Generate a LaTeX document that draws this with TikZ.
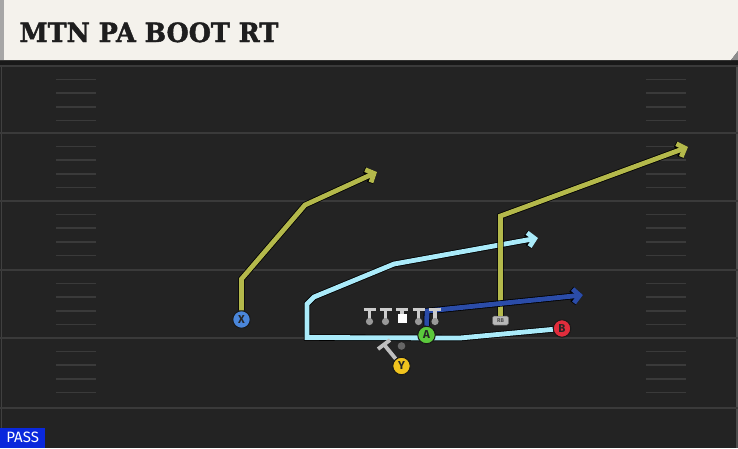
\documentclass[tikz,border=0pt]{standalone}
\usepackage{fontspec}
\setmainfont{Fira Sans}
\newfontfamily\titlefont{DejaVu Serif}[FakeStretch=0.96, BoldFeatures={FakeBold=1.6}]
\usetikzlibrary{arrows.meta}

\definecolor{fieldbg}{HTML}{232323}
\definecolor{titlebg}{HTML}{F4F2EC}
\definecolor{titleink}{HTML}{1E1E1E}
\definecolor{yardgray}{HTML}{3A3A3A}
\definecolor{routeolive}{HTML}{B4B94B}
\definecolor{routesky}{HTML}{AAEBFA}
\definecolor{routenavy}{HTML}{2B4CA8}
\definecolor{xblue}{HTML}{4A86DA}
\definecolor{agreen}{HTML}{5BC83C}
\definecolor{bred}{HTML}{E02D3C}
\definecolor{yyellow}{HTML}{F0C31E}
\definecolor{passblue}{HTML}{0A28DC}

\tikzset{
  yardline/.style={yardgray, line width=2pt},
  hashmark/.style={yardgray, line width=1.5pt},
  route/.style={#1, line width=4.8pt, line join=miter,
    -{Straight Barb[length=6.5pt,width=14pt]},
    preaction={draw=black, line width=6.4pt}},
  player/.style={circle, draw=black!90, line width=1pt, minimum size=17.5pt,
    inner sep=0pt, text=black!85, font=\fontsize{11.5}{12}\selectfont\bfseries},
  rbtag/.style={rounded corners=1.5pt, fill=black!28, draw=black!60, line width=0.5pt,
    minimum width=16pt, minimum height=9pt, inner sep=0pt, text=black!70,
    font=\fontsize{5.5}{6}\selectfont\bfseries},
  blocker/.style={black!20, line width=3.8pt},
  blockline/.style={black!25, line width=3.8pt}
}

\begin{document}
\begin{tikzpicture}[x=1pt, y=-1pt]
  \useasboundingbox (0,0) rectangle (738,448);
  % field and title bar
  \fill[fieldbg] (0,0) rectangle (738,448);
  \fill[black!90] (0,60) rectangle (738,65);
  \fill[titlebg] (0,0) -- (738,0) -- (738,51) -- (731,60) -- (0,60) -- cycle;
  \fill[black!45] (738,51) -- (731,60) -- (738,60) -- cycle;
  \fill[black!35] (0,0) rectangle (4,60);
  \draw[black!75, line width=1pt] (1,65) -- (1,448);
  \draw[black!70, line width=1.2pt] (737,65) -- (737,448);
  \node[anchor=base west, text=titleink, font=\titlefont\fontsize{26.5}{30}\selectfont\bfseries]
    (title) at (16,42) {MTN PA BOOT RT};

  \draw[yardline] (0,66) -- (738,66);
  \draw[yardline] (0,133) -- (738,133);
  \draw[yardline] (0,201) -- (738,201);
  \draw[yardline] (0,270) -- (738,270);
  \draw[yardline] (0,338) -- (738,338);
  \draw[yardline] (0,408) -- (738,408);
  \foreach \yl in {66,133,201,270,338}
    \foreach \k in {13.6,27.2,40.8,54.4} {
      \draw[hashmark] (56,\yl+\k) -- (96,\yl+\k);
      \draw[hashmark] (646,\yl+\k) -- (686,\yl+\k);
    }

  % players
  \node[player, fill=xblue] (X) at (241.5,319.5) {X};
  \node[player, fill=agreen] (A) at (426.5,335) {A};
  \node[player, fill=bred] (B) at (562,328.5) {B};
  \node[player, fill=yyellow] (Y) at (401.5,366) {Y};
  \node[rbtag] (RB) at (500.5,320.5) {RB};

  % route points
  \coordinate (xbend) at (241.5,279);
  \coordinate (xcut) at (305,205);
  \coordinate (xend) at (377,172);
  \coordinate (rbbend) at (500.5,216);
  \coordinate (rbend) at (688,147);
  \coordinate (abend) at (427,311);
  \coordinate (aend) at (583,295);
  \coordinate (bdrag) at (460,338);
  \coordinate (bcorner) at (307,337.5);
  \coordinate (bup) at (307,304);
  \coordinate (bchamf) at (314,297);
  \coordinate (bbreak) at (394,264);
  \coordinate (bend) at (538,238);
  \coordinate (yblk) at (384,344.5);

  % routes
  \draw[route=routesky] (B) -- (bdrag) -- (bcorner) -- (bup) -- (bchamf) -- (bbreak) -- (bend);
  \draw[route=routeolive] (X) -- (xbend) -- (xcut) -- (xend);
  \draw[route=routeolive] (RB) -- (rbbend) -- (rbend);
  \draw[route=routenavy] (A) -- (abend) -- (aend);

  % line
  \draw[blocker] (363.5,309.5) -- (375.5,309.5);
  \draw[blocker] (369.5,309.5) -- (369.5,321);
  \fill[black!40] (369.5,321.5) circle[radius=3.6pt];
  \draw[blocker] (379.5,309.5) -- (391.5,309.5);
  \draw[blocker] (385.5,309.5) -- (385.5,321);
  \fill[black!40] (385.5,321.5) circle[radius=3.6pt];
  \draw[blocker] (396,309.5) -- (408,309.5);
  \draw[blocker] (402,309.5) -- (402,314);
  \fill[white] (397.5,314) rectangle (406.5,322.5);
  \draw[blocker] (412.5,309.5) -- (424.5,309.5);
  \draw[blocker] (418.5,309.5) -- (418.5,321);
  \fill[black!40] (418.5,321.5) circle[radius=3.6pt];
  \draw[blocker] (429,309.5) -- (441,309.5);
  \draw[blocker] (435,309.5) -- (435,321);
  \fill[black!40] (435,321.5) circle[radius=3.6pt];
  \fill[black!60] (401.5,346) circle[radius=3.8pt];

  % Y block
  \draw[blockline] (Y) -- (yblk);
  \draw[blockline] (378,349) -- (390,340);
  \node[player, fill=yyellow] (Ytop) at (Y) {Y};
  \node[player, fill=agreen] (Atop) at (A) {A};

  \node[anchor=south west, fill=passblue, text=white, minimum width=45pt, minimum height=20pt,
    inner sep=0pt, font=\fontsize{15}{15}\selectfont] (pass) at (0,448) {PASS};
\end{tikzpicture}
\end{document}
